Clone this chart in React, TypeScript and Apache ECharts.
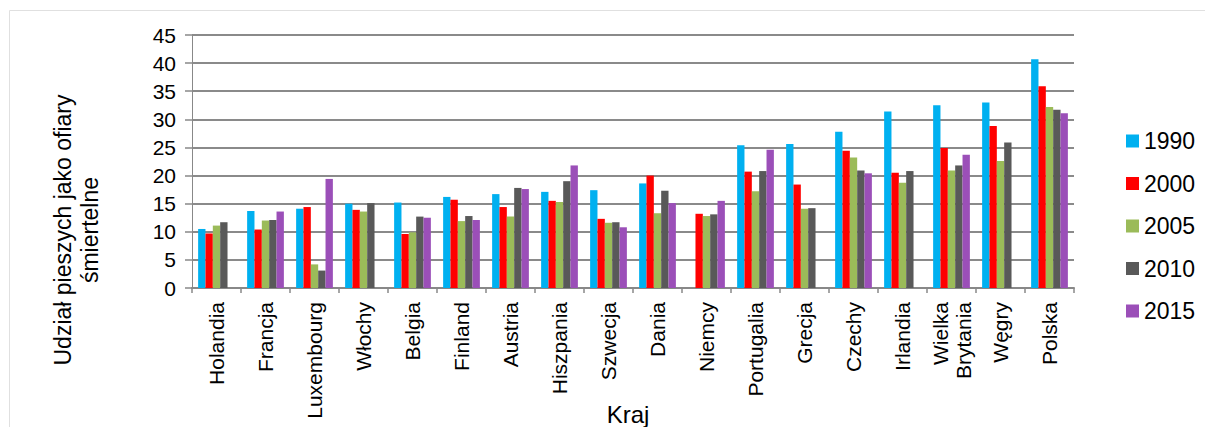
import React, { useEffect, useRef } from "react";
import * as echarts from "echarts";

const categories = [
  "Holandia", "Francja", "Luxembourg", "Włochy", "Belgia", "Finland", "Austria",
  "Hiszpania", "Szwecja", "Dania", "Niemcy", "Portugalia", "Grecja", "Czechy",
  "Irlandia", "Wielka\nBrytania", "Węgry", "Polska",
];

const v1990 = [10.5, 13.7, 14.1, 15.0, 15.2, 16.2, 16.7, 17.1, 17.4, 18.6, null, 25.4, 25.6, 27.8, 31.4, 32.5, 33.0, 40.7];
const v2000 = [9.7, 10.4, 14.4, 13.9, 9.6, 15.7, 14.4, 15.5, 12.3, 20.0, 13.2, 20.7, 18.4, 24.4, 20.5, 24.9, 28.8, 35.9];
const v2005 = [11.1, 12.0, 4.2, 13.6, 9.9, 11.9, 12.7, 15.3, 11.6, 13.3, 12.8, 17.2, 14.1, 23.2, 18.7, 20.9, 22.6, 32.2];
const v2010 = [11.7, 12.1, 3.1, 15.1, 12.7, 12.8, 17.8, 19.0, 11.7, 17.3, 13.1, 20.8, 14.2, 20.9, 20.8, 21.8, 25.9, 31.7];
const v2015 = [null, 13.6, 19.4, null, 12.5, 12.1, 17.6, 21.8, 10.8, 15.1, 15.5, 24.6, null, 20.4, null, 23.7, null, 31.1];

const seriesNames = ["1990", "2000", "2005", "2010", "2015"];
const seriesValues = [v1990, v2000, v2005, v2010, v2015];
const seriesColors = ["#00B0F0", "#FF0000", "#9BBB59", "#595959", "#9B4FB8"];

const yTicks = { min: 0, max: 45, interval: 5 };
const FONT = "'Liberation Sans', Arial, sans-serif";

export default function App() {
  const ref = useRef<HTMLDivElement>(null);
  useEffect(() => {
    if (!ref.current) return;
    const chart = echarts.init(ref.current, null, { renderer: "svg" });
    chart.setOption({
      animation: false,
      backgroundColor: "#fff",
      textStyle: { fontFamily: FONT },
      grid: { left: 192, right: 131, top: 35, bottom: 139, containLabel: false, outerBoundsMode: "none" },
      legend: {
        orient: "vertical",
        left: 1121,
        top: 124,
        icon: "rect",
        itemWidth: 13,
        itemHeight: 13,
        itemGap: 18.5,
        textStyle: { fontSize: 23, color: "#000", fontFamily: FONT, lineHeight: 24 },
        data: seriesNames,
      },
      xAxis: {
        type: "category",
        data: categories,
        axisLine: { lineStyle: { color: "#888", width: 2 } },
        axisTick: { show: true, length: 5, lineStyle: { color: "#888", width: 1.5 } },
        axisLabel: {
          rotate: 90,
          interval: 0,
          margin: 14,
          fontSize: 21,
          color: "#000",
          fontFamily: FONT,
          lineHeight: 23,
        },
      },
      yAxis: {
        type: "value",
        min: yTicks.min,
        max: yTicks.max,
        interval: yTicks.interval,
        axisLine: { show: true, lineStyle: { color: "#888", width: 1 } },
        axisTick: { show: true, length: 7, lineStyle: { color: "#888", width: 1.5 } },
        splitLine: { lineStyle: { color: "#8a8a8a", width: 2 } },
        axisLabel: { fontSize: 21, color: "#000", margin: 16, fontFamily: FONT },
      },
      graphic: [
        {
          type: "rect",
          silent: true,
          shape: { x: 9.5, y: 10.5, width: 1230, height: 450 },
          style: { fill: "none", stroke: "#e0e0e0", lineWidth: 1 },
        },
        {
          type: "text",
          x: 63,
          y: 230,
          rotation: Math.PI / 2,
          style: {
            text: "Udział pieszych jako ofiary",
            fontSize: 23,
            fontFamily: FONT,
            fill: "#000",
            textAlign: "center",
            textVerticalAlign: "middle",
          },
        },
        {
          type: "text",
          x: 90,
          y: 230,
          rotation: Math.PI / 2,
          style: {
            text: "śmiertelne",
            fontSize: 23,
            fontFamily: FONT,
            fill: "#000",
            textAlign: "center",
            textVerticalAlign: "middle",
          },
        },
        {
          type: "text",
          x: 628,
          y: 414,
          style: {
            text: "Kraj",
            fontSize: 24,
            fontFamily: FONT,
            fill: "#000",
            textAlign: "center",
            textVerticalAlign: "middle",
          },
        },
      ],
      series: seriesNames.map((name, i) => ({
        name,
        type: "bar",
        data: seriesValues[i],
        barGap: "0%",
        barCategoryGap: "25%",
        itemStyle: { color: seriesColors[i] },
      })),
    });
    return () => chart.dispose();
  }, []);
  return (
    <div
      ref={ref}
      style={{ position: "fixed", left: 0, top: 0, width: 1205, height: 427, background: "#fff" }}
    />
  );
}
